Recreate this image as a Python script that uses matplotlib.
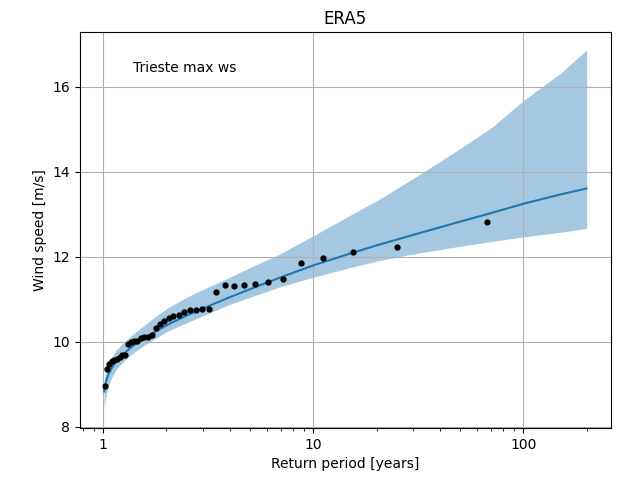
import matplotlib
matplotlib.use("Agg")
import matplotlib.pyplot as plt
from matplotlib.ticker import ScalarFormatter

# annual maxima with their empirical return periods (years)
obs_period = [1.015, 1.040, 1.068, 1.097, 1.128, 1.161, 1.196, 1.233, 1.272, 1.314,
              1.358, 1.406, 1.456, 1.511, 1.570, 1.634, 1.703, 1.779, 1.861, 1.951,
              2.051, 2.161, 2.284, 2.422, 2.577, 2.753, 2.956, 3.19, 3.46, 3.79,
              4.19, 4.67, 5.29, 6.09, 7.18, 8.74, 11.17, 15.46, 25.1, 67.0]
obs_ws = [8.95, 9.36, 9.48, 9.55, 9.58, 9.60, 9.64, 9.69, 9.70, 9.95,
          9.99, 10.01, 10.03, 10.10, 10.12, 10.12, 10.17, 10.33, 10.42, 10.50,
          10.56, 10.60, 10.63, 10.70, 10.74, 10.75, 10.77, 10.77, 11.18, 11.33,
          11.32, 11.35, 11.37, 11.40, 11.48, 11.85, 11.98, 12.11, 12.23, 12.81]

# fitted return levels and confidence interval
fit_period = [1.01, 1.03, 1.06, 1.1, 1.15, 1.2, 1.3, 1.4, 1.6, 1.8, 2, 2.5, 3, 4, 5,
              7, 10, 15, 20, 30, 50, 70, 100, 150, 200]
fit_ws = [8.83, 9.06, 9.24, 9.39, 9.53, 9.63, 9.79, 9.92, 10.12, 10.26, 10.39, 10.62,
          10.79, 11.05, 11.24, 11.52, 11.80, 12.08, 12.27, 12.52, 12.83, 13.03,
          13.25, 13.47, 13.61]
ci_low = [8.40, 8.72, 8.97, 9.17, 9.34, 9.45, 9.62, 9.75, 9.95, 10.10, 10.24, 10.45,
          10.62, 10.88, 11.05, 11.30, 11.52, 11.75, 11.90, 12.07, 12.25, 12.36,
          12.47, 12.58, 12.67]
ci_high = [9.10, 9.32, 9.50, 9.65, 9.80, 9.90, 10.06, 10.20, 10.42, 10.62, 10.78, 11.05,
           11.24, 11.52, 11.75, 12.08, 12.50, 12.98, 13.32, 13.85, 14.55, 15.03,
           15.68, 16.32, 16.87]

fig, ax = plt.subplots(figsize=(6.2, 4.78), dpi=100)
fig.subplots_adjust(left=0.129, right=0.985, bottom=0.105, top=0.933)

ax.fill_between(fit_period, ci_low, ci_high, color='C0', alpha=0.4, linewidth=0)
ax.plot(fit_period, fit_ws, color='C0')
ax.plot(obs_period, obs_ws, 'o', color='k', markersize=3.5)

ax.set_xscale('log')
ax.xaxis.set_major_formatter(ScalarFormatter())
ax.grid(True)
ax.set_xlabel('Return period [years]')
ax.set_ylabel('Wind speed [m/s]')
ax.set_title('ERA5')
ax.text(0.1, 0.9, 'Trieste max ws', transform=ax.transAxes)

fig.savefig('out.png', dpi=100)
